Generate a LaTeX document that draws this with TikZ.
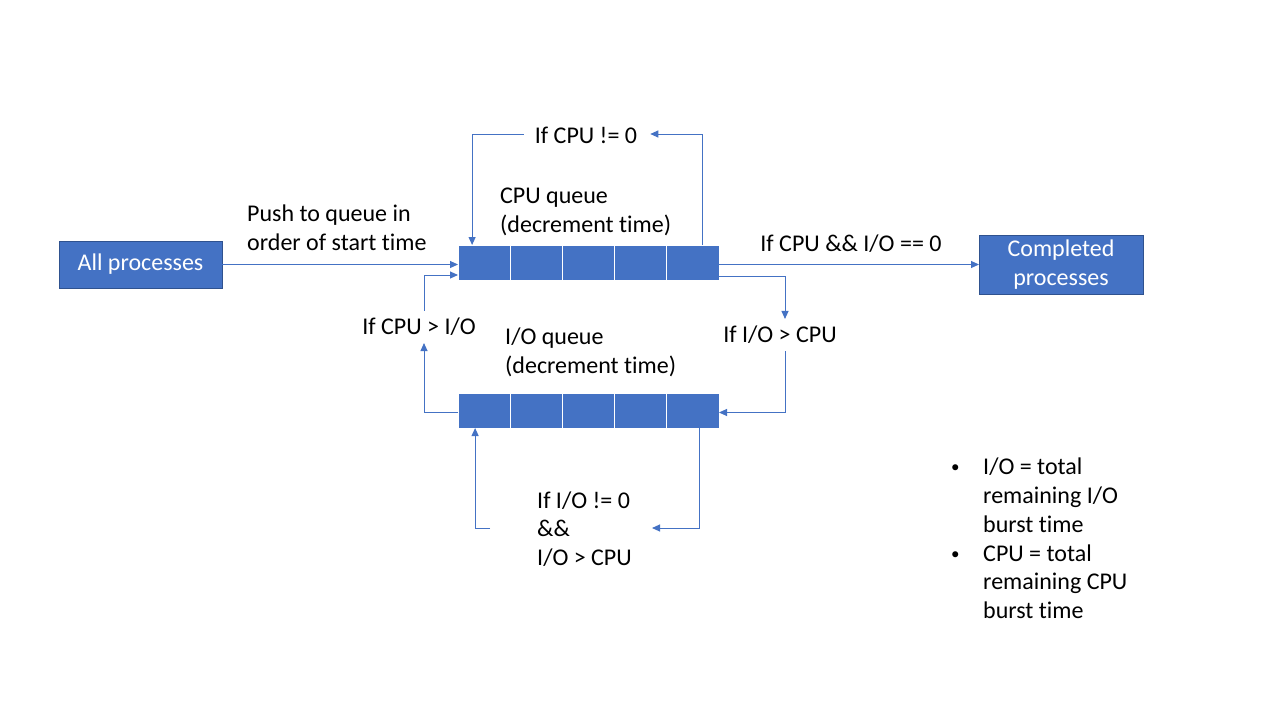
\documentclass[tikz,border=0pt]{standalone}
\usepackage{fontspec}
\setmainfont[Ligatures=NoCommon]{Carlito}
\usetikzlibrary{positioning,arrows.meta}
\definecolor{office}{HTML}{4472C4}
\definecolor{officedark}{HTML}{2F528F}
\newcommand{\smallbullet}{\makebox[34pt][l]{\hspace*{2pt}\raisebox{2pt}{\fontsize{17}{17}\selectfont\textbullet}}}

\begin{document}
\begin{tikzpicture}[x=1pt, y=-1pt,
  every node/.style={font=\fontsize{24}{28.8}\selectfont},
  procbox/.style={draw=officedark, fill=office, text=white, align=center,
                  inner sep=0pt, outer sep=0pt},
  cell/.style={draw=white, line width=0.7pt, fill=office,
               minimum width=52.2pt, minimum height=35pt, inner sep=0pt, outer sep=0pt},
  cond/.style={inner sep=7pt, align=left},
  note/.style={inner sep=0pt, align=left, anchor=west},
  arr/.style={-{Triangle[length=8pt, width=7pt]}, office, line width=1pt},
  ]
  \useasboundingbox[fill=white] (0,0) rectangle (1280,720);

  \node[procbox, minimum width=163pt, minimum height=47pt] (all) at (140.5,264.5) {All processes};
  \node[procbox, minimum width=164pt, minimum height=59pt] (done) at (1061,264.5) {Completed\\processes};

  % the two queues
  \node[cell, anchor=north west] (cpu1) at (458,245) {};
  \foreach \i [count=\j from 2] in {1,...,4}
    \node[cell, right=0pt of cpu\i] (cpu\j) {};
  \node[cell, anchor=north west] (io1) at (458,393) {};
  \foreach \i [count=\j from 2] in {1,...,4}
    \node[cell, right=0pt of io\i] (io\j) {};

  \node[note] (cpulbl) at (500,212) {CPU queue\\(decrement time)};
  \node[note] (iolbl) at (505,352) {I/O queue\\(decrement time)};
  \node[note] (pushlbl) at (247,228) {Push to queue in\\order of start time};

  \node[cond] (cpuzero) at (586,135) {If CPU != 0};
  \node[cond] (cpugt) at (419,327) {If CPU > I/O};
  \node[cond] (iogt) at (780,335) {If I/O > CPU};
  \node[cond] (both) at (851,244) {If CPU \&\& I/O == 0};
  \node[note] (iozero) at (537,529) {If I/O != 0\\\&\&\\I/O > CPU};

  \node[note] (legend) at (949,538.5) {\smallbullet I/O = total\\
    \hspace*{34pt}remaining I/O\\
    \hspace*{34pt}burst time\\
    \smallbullet CPU = total\\
    \hspace*{34pt}remaining CPU\\
    \hspace*{34pt}burst time};

  \draw[arr] (all) -- (cpu1.west |- all);
  \draw[arr] (cpu5.east |- done) -- (done);

  % CPU loop
  \draw[arr] ([xshift=10pt]cpu5.north) |- ([xshift=6pt]cpuzero.east |- 0,134);
  \draw[arr] ([xshift=-4pt]cpuzero.west |- 0,134) -| ([xshift=-12pt]cpu1.north);

  % CPU -> I/O
  \draw[arr] ([yshift=-13.5pt]cpu5.east) -| ([xshift=5pt]iogt.north);
  \draw[arr] ([xshift=5pt]iogt.south) |- ([yshift=-2pt]io5.east);

  % I/O -> CPU
  \draw[arr] ([yshift=-2pt]io1.west) -| ([xshift=5pt]cpugt.south);
  \draw[arr] ([xshift=5pt]cpugt.north) |- ([yshift=-12.5pt]cpu1.west);

  % I/O loop
  \draw[arr] ([xshift=7pt]io5.south) |- ([xshift=20pt]iozero.east |- 0,528);
  \draw[arr] ([xshift=-47pt]iozero.west |- 0,528) -| ([xshift=-9pt]io1.south);
\end{tikzpicture}
\end{document}
